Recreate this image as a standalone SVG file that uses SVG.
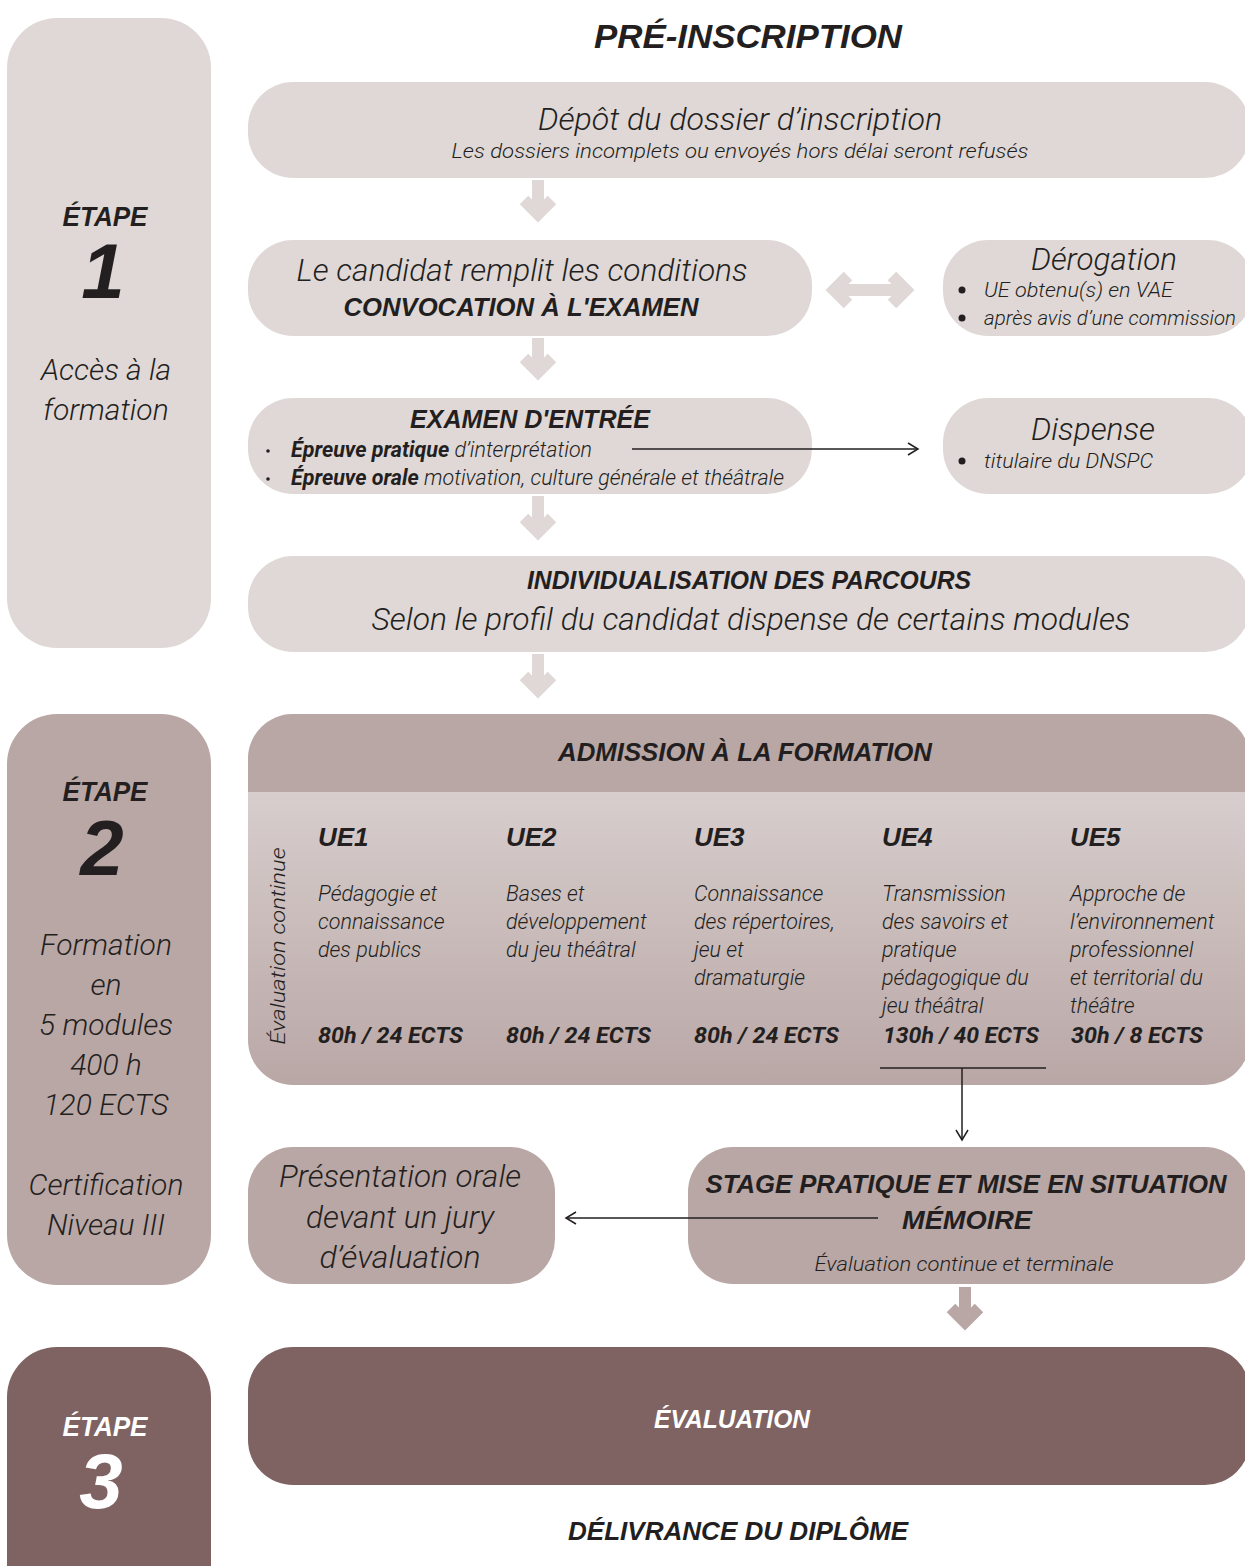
<svg xmlns="http://www.w3.org/2000/svg" width="1245" height="1566" viewBox="0 0 1245 1566">
<defs>
<style>
.l{fill:#dfd8d7}.m{fill:#b9a7a6}.d{fill:#7f6362}
.h{font-family:"Liberation Sans",Arial,sans-serif;font-weight:bold;font-style:italic;fill:#231f20}
.b{font-family:Roboto,"Liberation Sans",sans-serif;font-weight:300;font-style:italic;fill:#231f20}
.bb{font-family:Roboto,"Liberation Sans",sans-serif;font-weight:bold;font-style:italic;fill:#231f20}
.w{fill:#ffffff}
.c{text-anchor:middle}
.ca{fill:none;stroke:#dfd8d7;stroke-width:12;stroke-linejoin:miter}
.cm{fill:none;stroke:#b9a7a6;stroke-width:12;stroke-linejoin:miter}
.ln{fill:none;stroke:#231f20;stroke-width:1.5}
</style>
<linearGradient id="g" x1="0" y1="0" x2="0" y2="1">
<stop offset="0" stop-color="#dfd8d7"/><stop offset="1" stop-color="#b9a7a6"/>
</linearGradient>
<clipPath id="adm"><rect x="248" y="714" width="1002" height="371" rx="45"/></clipPath>
<marker id="ah" markerWidth="14" markerHeight="14" refX="12" refY="7" orient="auto" markerUnits="userSpaceOnUse">
<path d="M2,1 L12,7 L2,13" fill="none" stroke="#231f20" stroke-width="1.5"/>
</marker>
</defs>

<g id="etape1">
<rect class="l" x="7" y="18" width="204" height="630" rx="50"/>
<text class="h c" x="105" y="226" font-size="28" textLength="85" lengthAdjust="spacingAndGlyphs">ÉTAPE</text>
<text class="h c" x="103" y="298" font-size="78">1</text>
<text class="b c" x="106" y="380" font-size="30">Accès à la</text>
<text class="b c" x="106" y="420" font-size="30">formation</text>
</g>

<g id="etape2">
<rect class="m" x="7" y="714" width="204" height="571" rx="50"/>
<text class="h c" x="105" y="801" font-size="28" textLength="85" lengthAdjust="spacingAndGlyphs">ÉTAPE</text>
<text class="h c" x="102" y="875" font-size="78">2</text>
<text class="b c" x="106" y="955" font-size="30">Formation</text>
<text class="b c" x="106" y="995" font-size="30">en</text>
<text class="b c" x="106" y="1035" font-size="30">5 modules</text>
<text class="b c" x="106" y="1075" font-size="30">400 h</text>
<text class="b c" x="106" y="1115" font-size="30">120 ECTS</text>
<text class="b c" x="106" y="1195" font-size="30">Certification</text>
<text class="b c" x="106" y="1235" font-size="30">Niveau III</text>
</g>

<g id="etape3">
<rect class="d" x="7" y="1347" width="204" height="280" rx="50"/>
<text class="h c w" x="105" y="1436" font-size="28" textLength="85" lengthAdjust="spacingAndGlyphs">ÉTAPE</text>
<text class="h c w" x="101" y="1508" font-size="78">3</text>
</g>

<g id="title">
<text class="h c" x="748" y="48" font-size="34" textLength="308" lengthAdjust="spacingAndGlyphs">PRÉ-INSCRIPTION</text>
</g>

<g id="depot">
<rect class="l" x="248" y="82" width="1002" height="96" rx="45"/>
<text class="b c" x="740" y="130" font-size="31" textLength="404" lengthAdjust="spacingAndGlyphs">Dépôt du dossier d’inscription</text>
<text class="b c" x="740" y="158" font-size="20" textLength="577" lengthAdjust="spacingAndGlyphs">Les dossiers incomplets ou envoyés hors délai seront refusés</text>
</g>

<g id="candidat">
<rect class="l" x="248" y="240" width="564" height="96" rx="45"/>
<text class="b c" x="522" y="281" font-size="31" textLength="451" lengthAdjust="spacingAndGlyphs">Le candidat remplit les conditions</text>
<text class="h c" x="521" y="316" font-size="25" textLength="355" lengthAdjust="spacingAndGlyphs">CONVOCATION À L'EXAMEN</text>
</g>

<g id="derogation">
<rect class="l" x="943" y="240" width="310" height="96" rx="45"/>
<text class="b c" x="1104" y="270" font-size="31" textLength="146" lengthAdjust="spacingAndGlyphs">Dérogation</text>
<circle cx="962" cy="290" r="3.5" fill="#231f20"/>
<text class="b" x="984" y="297" font-size="21" textLength="189" lengthAdjust="spacingAndGlyphs">UE obtenu(s) en VAE</text>
<circle cx="962" cy="318" r="3.5" fill="#231f20"/>
<text class="b" x="984" y="325" font-size="21" textLength="252" lengthAdjust="spacingAndGlyphs">après avis d’une commission</text>
</g>

<g id="examen">
<rect class="l" x="248" y="398" width="564" height="96" rx="45"/>
<text class="h c" x="530" y="428" font-size="26" textLength="240" lengthAdjust="spacingAndGlyphs">EXAMEN D'ENTRÉE</text>
<circle cx="268" cy="451" r="1.8" fill="#231f20"/>
<text class="b" x="291" y="457" font-size="21.5"><tspan class="bb">Épreuve pratique</tspan> d’interprétation</text>
<circle cx="268" cy="479" r="1.8" fill="#231f20"/>
<text class="b" x="291" y="485" font-size="21.5"><tspan class="bb">Épreuve orale</tspan> motivation, culture générale et théâtrale</text>
</g>

<g id="dispense">
<rect class="l" x="943" y="398" width="310" height="96" rx="45"/>
<text class="b c" x="1093" y="440" font-size="31" textLength="124" lengthAdjust="spacingAndGlyphs">Dispense</text>
<circle cx="962" cy="461" r="3.5" fill="#231f20"/>
<text class="b" x="984" y="468" font-size="21" textLength="169" lengthAdjust="spacingAndGlyphs">titulaire du DNSPC</text>
</g>

<g id="individualisation">
<rect class="l" x="248" y="556" width="1002" height="96" rx="45"/>
<text class="h c" x="749" y="589" font-size="25" textLength="444" lengthAdjust="spacingAndGlyphs">INDIVIDUALISATION DES PARCOURS</text>
<text class="b c" x="751" y="630" font-size="31" textLength="759" lengthAdjust="spacingAndGlyphs">Selon le profil du candidat dispense de certains modules</text>
</g>

<g id="admission">
<g clip-path="url(#adm)">
<rect x="248" y="714" width="1002" height="371" fill="url(#g)"/>
<rect class="m" x="248" y="714" width="1002" height="78"/>
</g>
<text class="h c" x="745" y="761" font-size="25" textLength="374" lengthAdjust="spacingAndGlyphs">ADMISSION À LA FORMATION</text>
<text class="b c" transform="translate(285,946) rotate(-90)" font-size="20" textLength="197" lengthAdjust="spacingAndGlyphs">Évaluation continue</text>
<text class="h" x="318" y="846" font-size="26">UE1</text>
<text class="h" x="506" y="846" font-size="26">UE2</text>
<text class="h" x="694" y="846" font-size="26">UE3</text>
<text class="h" x="882" y="846" font-size="26">UE4</text>
<text class="h" x="1070" y="846" font-size="26">UE5</text>
<g class="b" font-size="21.5">
<text x="318" y="901">Pédagogie et</text>
<text x="318" y="929">connaissance</text>
<text x="318" y="957">des publics</text>
<text x="506" y="901">Bases et</text>
<text x="506" y="929">développement</text>
<text x="506" y="957">du jeu théâtral</text>
<text x="694" y="901">Connaissance</text>
<text x="694" y="929">des répertoires,</text>
<text x="694" y="957">jeu et</text>
<text x="694" y="985">dramaturgie</text>
<text x="882" y="901">Transmission</text>
<text x="882" y="929">des savoirs et</text>
<text x="882" y="957">pratique</text>
<text x="882" y="985">pédagogique du</text>
<text x="882" y="1013">jeu théâtral</text>
<text x="1070" y="901">Approche de</text>
<text x="1070" y="929">l’environnement</text>
<text x="1070" y="957">professionnel</text>
<text x="1070" y="985">et territorial du</text>
<text x="1070" y="1013">théâtre</text>
</g>
<g class="bb" font-size="22">
<text x="318" y="1043" textLength="145" lengthAdjust="spacingAndGlyphs">80h / 24 ECTS</text>
<text x="506" y="1043" textLength="145" lengthAdjust="spacingAndGlyphs">80h / 24 ECTS</text>
<text x="694" y="1043" textLength="145" lengthAdjust="spacingAndGlyphs">80h / 24 ECTS</text>
<text x="883" y="1043" textLength="156" lengthAdjust="spacingAndGlyphs">130h / 40 ECTS</text>
<text x="1071" y="1043" textLength="132" lengthAdjust="spacingAndGlyphs">30h / 8 ECTS</text>
</g>
</g>

<g id="presentation">
<rect class="m" x="248" y="1147" width="307" height="137" rx="45"/>
<text class="b c" x="400" y="1187" font-size="31" textLength="242" lengthAdjust="spacingAndGlyphs">Présentation orale</text>
<text class="b c" x="400" y="1228" font-size="31" textLength="188" lengthAdjust="spacingAndGlyphs">devant un jury</text>
<text class="b c" x="400" y="1268" font-size="31" textLength="161" lengthAdjust="spacingAndGlyphs">d’évaluation</text>
</g>

<g id="stage">
<rect class="m" x="688" y="1147" width="562" height="137" rx="45"/>
<text class="h c" x="966" y="1193" font-size="26" textLength="521" lengthAdjust="spacingAndGlyphs">STAGE PRATIQUE ET MISE EN SITUATION</text>
<text class="h c" x="967" y="1229" font-size="26" textLength="130" lengthAdjust="spacingAndGlyphs">MÉMOIRE</text>
<text class="b c" x="964" y="1271" font-size="21" textLength="299" lengthAdjust="spacingAndGlyphs">Évaluation continue et terminale</text>
</g>

<g id="evaluation">
<rect class="d" x="248" y="1347" width="1002" height="138" rx="45"/>
<text class="h c w" x="732" y="1428" font-size="25" textLength="156" lengthAdjust="spacingAndGlyphs">ÉVALUATION</text>
</g>

<g id="diplome">
<text class="h c" x="738" y="1540" font-size="25" textLength="340" lengthAdjust="spacingAndGlyphs">DÉLIVRANCE DU DIPLÔME</text>
</g>

<g id="connectors">
<path class="ca" d="M538,180 V214 M524,200 L538,214 L552,200"/>
<path class="ca" d="M538,338 V372 M524,358 L538,372 L552,358"/>
<path class="ca" d="M538,496 V532 M524,518 L538,532 L552,518"/>
<path class="ca" d="M538,654 V690 M524,676 L538,690 L552,676"/>
<path class="ca" d="M834,290 H906 M848,276 L834,290 L848,304 M892,276 L906,290 L892,304"/>
<path class="cm" d="M965,1287 V1322 M951,1308 L965,1322 L979,1308"/>
<line class="ln" x1="632" y1="449" x2="918" y2="449" marker-end="url(#ah)"/>
<path class="ln" d="M880,1068 H1046"/>
<line class="ln" x1="962" y1="1068" x2="962" y2="1140" marker-end="url(#ah)"/>
<line class="ln" x1="878" y1="1218" x2="566" y2="1218" marker-end="url(#ah)"/>
</g>
</svg>
